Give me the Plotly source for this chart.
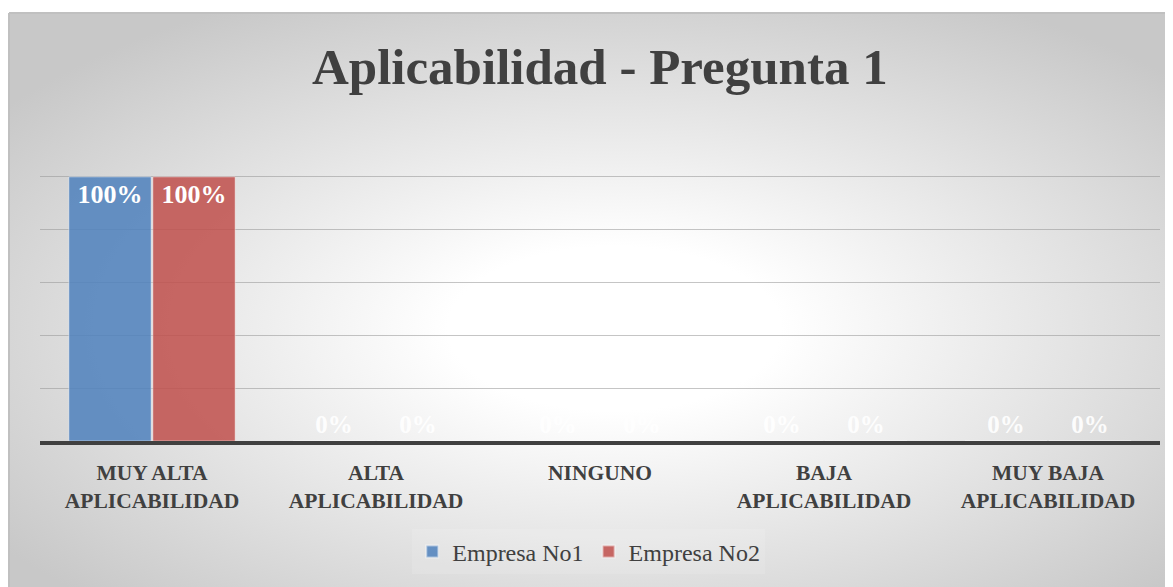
import base64
import plotly.graph_objects as go

# datos
categorias = [
    "MUY ALTA<br>APLICABILIDAD",
    "ALTA<br>APLICABILIDAD",
    "NINGUNO",
    "BAJA<br>APLICABILIDAD",
    "MUY BAJA<br>APLICABILIDAD",
]
empresa_1 = [1.0, 0.0, 0.0, 0.0, 0.0]
empresa_2 = [1.0, 0.0, 0.0, 0.0, 0.0]
series = ["Empresa No1", "Empresa No2"]

# la página añade 8px de margen, así que la figura es algo más pequeña
W, H = 1165, 579
ML, MR, MT, MB = 32, 13, 116, 146
SERIF = "Liberation Serif, Times New Roman, serif"
GRIS = "#404040"

# fondo con degradado radial (estilo Excel)
svg = """<svg xmlns='http://www.w3.org/2000/svg' width='1164' height='574' viewBox='0 0 1164 574' preserveAspectRatio='none'>
<defs><radialGradient id='g' cx='52%' cy='55%' r='65%'>
<stop offset='0' stop-color='#ffffff'/><stop offset='0.22' stop-color='#ffffff'/>
<stop offset='1' stop-color='#c8c8c8'/></radialGradient></defs>
<rect x='0' y='0' width='1164' height='574' fill='url(#g)'/></svg>"""
fondo = "data:image/svg+xml;base64," + base64.b64encode(svg.encode()).decode()

pw, ph = W - ML - MR, H - MT - MB
x0 = (1 - ML) / pw
x1 = (W - ML) / pw
y0 = (H - MB - 5) / ph
y1 = (H - MB - H) / ph

colores = ["rgba(79,129,189,0.86)", "rgba(192,80,77,0.86)"]

fig = go.Figure()
for nombre, valores, color in zip(series, [empresa_1, empresa_2], colores):
    fig.add_trace(go.Bar(
        name=nombre,
        x=categorias,
        y=valores,
        marker=dict(color=color, line=dict(color="rgba(255,255,255,0.45)", width=1)),
        text=[f"{v:.0%}" for v in valores],
        textposition=["inside" if v > 0 else "outside" for v in valores],
        insidetextanchor="end",
        constraintext="none",
        textfont=dict(family=SERIF, size=26, color="white", weight="bold"),
        outsidetextfont=dict(family=SERIF, size=25, color="rgba(255,255,255,0.92)", weight="bold"),
        cliponaxis=False,
    ))

fig.update_layout(
    width=W, height=H,
    margin=dict(l=ML, r=MR, t=MT, b=MB),
    paper_bgcolor="white",
    plot_bgcolor="rgba(0,0,0,0)",
    barmode="group",
    bargap=0.25,
    bargroupgap=0.02,
    title=dict(
        text="Aplicabilidad - Pregunta 1",
        x=0.508, xanchor="center", y=1 - 58 / H, yanchor="middle",
        font=dict(family=SERIF, size=51, color=GRIS, weight="bold"),
    ),
    legend=dict(
        orientation="h", x=0.49, xanchor="center", y=-0.35, yanchor="middle",
        font=dict(family=SERIF, size=24, color=GRIS),
        bgcolor="rgba(255,255,255,0.12)",
        itemsizing="constant",
    ),
    images=[dict(
        source=fondo, xref="paper", yref="paper",
        x=x0, y=y0, sizex=x1 - x0, sizey=y0 - y1,
        sizing="stretch", layer="below",
    )],
    shapes=[
        dict(type="line", xref="paper", yref="paper", x0=x0, x1=x1, y0=y0, y1=y0,
             line=dict(color="#c0c0c0", width=2)),
        dict(type="line", xref="paper", yref="paper", x0=x0, x1=x0, y0=y0, y1=y1,
             line=dict(color="#c0c0c0", width=2)),
    ],
    showlegend=True,
)

fig.update_xaxes(
    showline=True, linecolor=GRIS, linewidth=4,
    ticks="outside", ticklen=9, tickcolor="rgba(0,0,0,0)",
    tickfont=dict(family=SERIF, size=21.5, color=GRIS, weight="bold"),
    tickangle=0,
)
fig.update_yaxes(
    range=[0, 1.2001], dtick=0.2, showticklabels=False,
    showgrid=True, gridcolor="rgba(150,150,150,0.55)", gridwidth=1,
    zeroline=False,
)

fig.write_html("out.html")
